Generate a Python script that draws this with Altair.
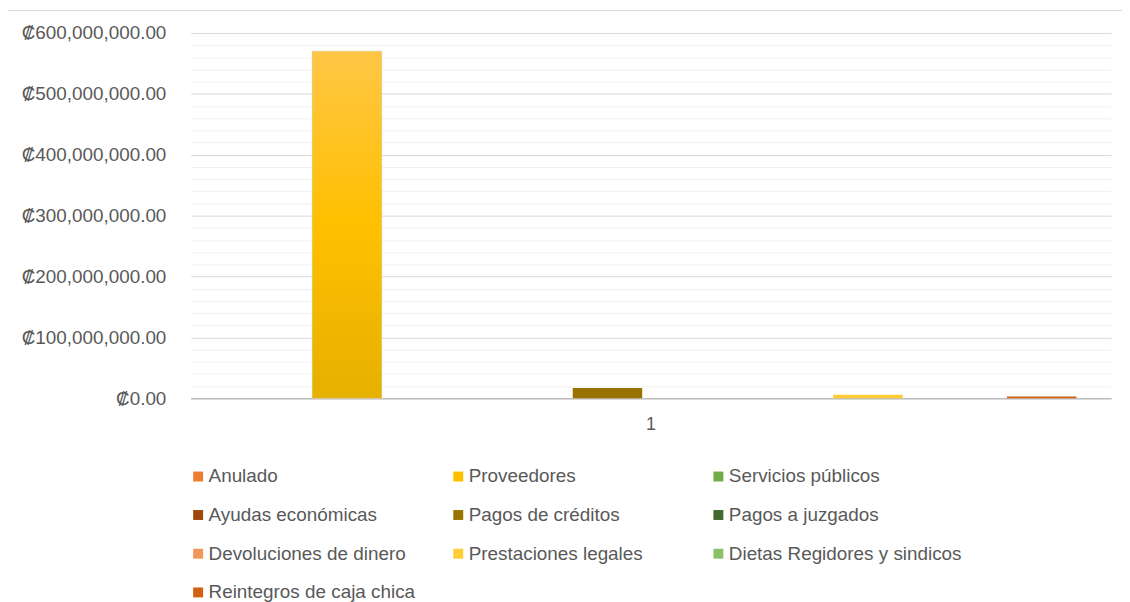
import altair as alt
import pandas as pd

# ---- data ----
series = [
    "Anulado", "Proveedores", "Servicios públicos",
    "Ayudas económicas", "Pagos de créditos", "Pagos a juzgados",
    "Devoluciones de dinero", "Prestaciones legales", "Dietas Regidores y sindicos",
    "Reintegros de caja chica",
]
values = [0, 570000000, 0, 0, 17000000, 0, 0, 6000000, 0, 3000000]
colors = ["#ED7D31", "#FFC000", "#70AD47", "#9E480E", "#997300", "#43682B",
          "#F1975A", "#FFCD33", "#8CC168", "#D26012"]
category = "1"
y_ticks = list(range(0, 600000001, 20000000))

df = pd.DataFrame({"cat": [category] * len(series), "serie": series, "valor": values})

FONT = "Liberation Sans"
LABEL = "#595959"

x = alt.X("cat:N", title=None,
          scale=alt.Scale(paddingInner=0, paddingOuter=0),
          axis=alt.Axis(labelAngle=0, ticks=False, labelFont=FONT, labelFontSize=18,
                        labelColor=LABEL, labelPadding=17, domainColor="#BFBFBF",
                        domainWidth=1.5, grid=False))
xo = alt.XOffset("serie:N", sort=series,
                 scale=alt.Scale(domain=series, paddingInner=0.2, paddingOuter=0.4))
y = alt.Y("valor:Q", title=None,
          scale=alt.Scale(domain=[0, 600000000], nice=False),
          axis=alt.Axis(values=y_ticks, ticks=False, domain=False,
                        labelExpr="datum.value % 100000000 === 0 ? '₡' + format(datum.value, ',.2f') : ''",
                        labelFont=FONT, labelFontSize=19, labelColor=LABEL, labelPadding=25,
                        gridColor={"condition": {"test": "datum.value % 100000000 === 0",
                                                 "value": "#D9D9D9"},
                                   "value": "#F0F0F0"},
                        gridWidth=1))

bars = alt.Chart(df).mark_bar().encode(
    x=x, xOffset=xo, y=y,
    color=alt.Color("serie:N", sort=series,
                    scale=alt.Scale(domain=series, range=colors),
                    legend=alt.Legend(title=None, orient="none", legendX=-2, legendY=437,
                                      direction="horizontal", padding=0,
                                      columns=3, gridAlign="all", columnPadding=7,
                                      rowPadding=19, symbolType="square", symbolSize=100,
                                      symbolStrokeWidth=0, labelOffset=1,
                                      labelFont=FONT, labelFontSize=19, labelColor=LABEL,
                                      labelLimit=400)),
)

gradient = {
    "gradient": "linear", "x1": 0, "y1": 0, "x2": 0, "y2": 1,
    "stops": [{"offset": 0, "color": "#FFC645"},
              {"offset": 0.5, "color": "#FFC000"},
              {"offset": 1, "color": "#E6B000"}],
}
big = alt.Chart(df).transform_filter(alt.datum.serie == "Proveedores").mark_bar(
    color=gradient, stroke="#D0D0D0", strokeWidth=0.6, strokeOpacity=0.8
).encode(x=x, xOffset=xo, y=y)

border = alt.Chart(df).transform_filter(alt.datum.serie == "Anulado").mark_rule(
    color="#D9D9D9", strokeWidth=1
).encode(x=alt.value(-184), x2=alt.value(940), y=alt.value(-22.5))

chart = alt.layer(bars, big, border).properties(
    width=927, height=368,
    autosize=alt.AutoSizeParams(type="none"),
    padding={"left": 184, "top": 23, "right": 11, "bottom": 205},
    background="white",
).configure_view(stroke=None)

chart.save("out.html", embed_options={"renderer": "svg", "actions": False})
